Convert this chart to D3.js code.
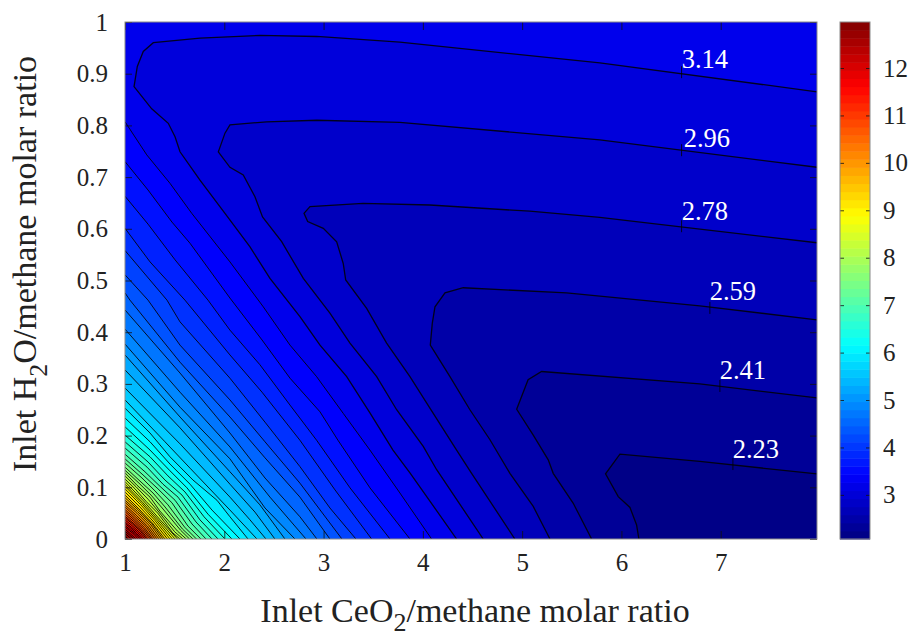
<!DOCTYPE html>
<html>
<head>
<meta charset="utf-8">
<script src="https://cdn.jsdelivr.net/npm/d3@7"></script>
<style>
  body { margin: 0; background: #fff; }
  text { font-family: "Liberation Serif", serif; fill: #222; }
</style>
</head>
<body>
<svg id="chart" width="914" height="637"></svg>
<script>
const xDomain = [1, 7.97];
const yDomain = [0, 1];
const zDomain = [2.07, 12.97];

const xTicks = [1, 2, 3, 4, 5, 6, 7];
const yTicks = [0, 0.1, 0.2, 0.3, 0.4, 0.5, 0.6, 0.7, 0.8, 0.9, 1];
const zTicks = [3, 4, 5, 6, 7, 8, 9, 10, 11, 12];

const contourLevels = [2.23, 2.41, 2.59, 2.78, 2.96, 3.14, 3.32, 3.50, 3.69, 3.87, 4.05, 4.23, 4.41, 4.60, 4.78, 4.96, 5.14, 5.32, 5.51, 5.69,
  5.87, 6.05, 6.23, 6.42, 6.60, 6.78, 6.96, 7.14, 7.33, 7.51, 7.69, 7.87, 8.05, 8.24, 8.42, 8.60, 8.78, 8.96, 9.15, 9.33,
  9.51, 9.69, 9.87, 10.06, 10.24, 10.42, 10.60, 10.78, 10.97, 11.15, 11.33, 11.51, 11.69, 11.88, 12.06, 12.24, 12.42, 12.60, 12.79];

// isolines as [x, y], one row per level above
const contourPoints = [
  [[7.97,.126],[6.79,.150],[5.985,.164],[5.84,.126],[5.968,.082],[6.086,.061],[6.153,.027],[6.176,0]],
  [[7.97,.273],[6.79,.300],[5.196,.324],[5.06,.308],[4.945,.251],[5.112,.201],[5.263,.153],[5.313,.127],[5.515,.069],[5.70,0]],
  [[7.97,.424],[6.79,.451],[5.448,.476],[4.407,.486],[4.223,.476],[4.122,.449],[4.095,.417],[4.075,.375],[4.273,.314],[4.474,.250],[4.676,.192],[4.877,.127],[5.112,.063],[5.28,0]],
  [[7.97,.573],[5.783,.622],[5.078,.634],[4.071,.646],[3.397,.649],[2.863,.643],[2.803,.630],[2.84,.614],[2.997,.601],[3.132,.575],[3.198,.533],[3.223,.501],[3.434,.446],[3.635,.379],[3.87,.314],[4.071,.253],[4.34,.172],[4.491,.127],[4.927,0]],
  [[7.97,.719],[5.783,.772],[3.769,.806],[2.931,.810],[2.427,.807],[2.057,.801],[2.007,.785],[1.94,.749],[2.057,.719],[2.191,.704],[2.309,.662],[2.385,.623],[2.578,.575],[2.796,.504],[3.064,.437],[3.266,.379],[3.535,.314],[3.736,.250],[4.004,.179],[4.139,.134],[4.608,0]],
  [[7.97,.865],[5.783,.921],[3.769,.961],[2.931,.972],[2.359,.974],[1.755,.969],[1.285,.96],[1.184,.943],[1.124,.914],[1.091,.875],[1.269,.832],[1.436,.804],[1.504,.778],[1.554,.749],[1.755,.694],[2.007,.63],[2.259,.565],[2.46,.504],[2.762,.43],[2.964,.375],[3.233,.314],[3.467,.244],[3.699,.172],[3.87,.128],[4.34,0]],
  [[1,.807],[1.219,.743],[1.453,.688],[1.672,.630],[2.057,.536],[2.393,.449],[2.662,.375],[2.93,.314],[3.198,.243],[3.467,.172],[3.769,.089],[4.088,0]],
  [[1,.730],[1.232,.675],[1.473,.613],[1.655,.572],[2.057,.466],[2.38,.385],[2.662,.311],[2.964,.246],[3.145,.191],[3.467,.099],[3.87,0]],
  [[1,.663],[1.232,.609],[1.504,.540],[1.836,.462],[2.057,.404],[2.359,.337],[2.662,.259],[2.93,.191],[3.266,.099],[3.669,0]],
  [[1,.601],[1.252,.536],[1.604,.462],[2.057,.356],[2.38,.284],[2.762,.191],[3.115,.095],[3.484,0]],
  [[1,.558],[1.423,.462],[1.554,.420],[2.057,.311],[2.41,.226],[2.762,.140],[3.064,.060],[3.326,0]],
  [[1,.511],[1.232,.462],[1.554,.375],[2.057,.269],[2.41,.188],[2.762,.108],[3.185,0]],
  [[1,.476],[1.05,.462],[1.554,.342],[2.057,.236],[2.41,.157],[2.762,.081],[3.064,0]],
  [[1,.443],[1.554,.321],[2.057,.205],[2.41,.118],[2.762,.043],[2.933,0]],
  [[1,.406],[1.554,.284],[2.057,.178],[2.46,.081],[2.823,0]],
  [[1,.377],[1.554,.255],[2.057,.155],[2.41,.060],[2.712,0]],
  [[1,.356],[1.554,.236],[2.057,.130],[2.359,.066],[2.611,0]],
  [[1,.327],[1.554,.215],[2.057,.106],[2.309,.052],[2.51,0]],
  [[1,.292],[1.554,.184],[2.057,.081],[2.259,.037],[2.42,0]],
  [[1,.269],[1.403,.188],[1.655,.137],[2.057,.056],[2.329,0]],
  [[1,.253],[1.252,.205],[1.453,.159],[1.685,.114],[1.926,.075],[2.057,.043],[2.239,0]],
  [[1,.234],[1.252,.188],[1.453,.145],[1.655,.106],[1.876,.056],[2.158,0]],
  [[1,.217],[1.252,.172],[1.453,.132],[1.624,.099],[1.836,.048],[2.077,0]],
  [[1,.201],[1.252,.159],[1.433,.122],[1.604,.091],[1.796,.043],[2.007,0]],
  [[1,.188],[1.232,.149],[1.403,.114],[1.574,.085],[1.755,.037],[1.937,0]],
  [[1,.176],[1.222,.139],[1.383,.106],[1.534,.081],[1.715,.033],[1.876,0]],
  [[1,.164],[1.201,.130],[1.352,.102],[1.504,.075],[1.675,.029],[1.816,0]],
  [[1,.155],[1.181,.124],[1.332,.097],[1.473,.070],[1.634,.025],[1.765,0]],
  [[1,.147],[1.171,.118],[1.302,.093],[1.433,.066],[1.60,.023],[1.72,0]],
  [[1,.139],[1.151,.112],[1.282,.089],[1.403,.062],[1.58,.019],[1.685,0]],
  [[1,.133],[1.141,.108],[1.262,.085],[1.383,.058],[1.56,.017],[1.65,0]],
  [[1,.128],[1.121,.104],[1.252,.081],[1.352,.054],[1.53,.015],[1.617,0]],
  [[1,.122],[1.111,.101],[1.232,.077],[1.342,.052],[1.50,.014],[1.584,0]],
  [[1,.116],[1.101,.097],[1.211,.073],[1.33,.05],[1.48,.012],[1.554,0]],
  [[1,.111],[1.185,.074],[1.35,.038],[1.529,0]],
  [[1,.106],[1.176,.071],[1.335,.037],[1.504,0]],
  [[1,.102],[1.167,.069],[1.32,.036],[1.478,0]],
  [[1,.097],[1.159,.066],[1.305,.035],[1.453,0]],
  [[1,.091],[1.15,.062],[1.29,.033],[1.428,0]],
  [[1,.085],[1.141,.058],[1.275,.031],[1.403,0]],
  [[1,.080],[1.134,.056],[1.268,.030],[1.383,0]],
  [[1,.075],[1.127,.053],[1.254,.029],[1.363,0]],
  [[1,.071],[1.12,.050],[1.239,.027],[1.342,0]],
  [[1,.066],[1.113,.046],[1.225,.025],[1.322,0]],
  [[1,.062],[1.106,.043],[1.211,.024],[1.302,0]],
  [[1,.057],[1.099,.040],[1.197,.022],[1.282,0]],
  [[1,.053],[1.093,.037],[1.187,.020],[1.267,0]],
  [[1,.048],[1.088,.034],[1.176,.018],[1.252,0]],
  [[1,.044],[1.081,.031],[1.162,.017],[1.232,0]],
  [[1,.041],[1.076,.029],[1.152,.016],[1.217,0]],
  [[1,.037],[1.07,.026],[1.141,.014],[1.201,0]],
  [[1,.033],[1.063,.023],[1.127,.013],[1.181,0]],
  [[1,.030],[1.058,.021],[1.116,.011],[1.166,0]],
  [[1,.026],[1.053,.018],[1.106,.010],[1.151,0]],
  [[1,.023],[1.046,.016],[1.092,.009],[1.131,0]],
  [[1,.019],[1.055,.010],[1.111,0]],
  [[1,.015],[1.045,.008],[1.091,0]],
  [[1,.011],[1.065,0]],
  [[1,.006],[1.03,0]]
];

const labelTexts = ["3.14", "2.96", "2.78", "2.59", "2.41", "2.23"];
const labelX = [6.841, 6.861, 6.841, 7.123, 7.223, 7.354];
const labelY = [0.928, 0.776, 0.634, 0.480, 0.327, 0.174];
const labelMarkX = [6.606, 6.606, 6.606, 6.891, 6.992, 7.123];
const labelMarkY = [0.903, 0.752, 0.605, 0.447, 0.296, 0.145];

const jetStops = [0, 1 / 8, 3 / 8, 5 / 8, 7 / 8, 1];
const jetColours = ["#000080", "#0000ff", "#00ffff", "#ffff00", "#ff0000", "#800000"];
const colourSteps = 64;

const plot = { left: 125, right: 817, top: 22, bottom: 539 };
const bar = { left: 840, right: 870 };

const svg = d3.select("#chart");

const xScale = d3.scaleLinear().domain(xDomain).range([plot.left, plot.right]);
const yScale = d3.scaleLinear().domain(yDomain).range([plot.bottom, plot.top]);
const zScale = d3.scaleLinear().domain(zDomain).range([plot.bottom, plot.top]);
const jet = d3.scaleLinear().domain(jetStops).range(jetColours);
const colourOf = z => jet((z - zDomain[0]) / (zDomain[1] - zDomain[0]));

const line = d3.line().x(d => xScale(d[0])).y(d => yScale(d[1]));

svg.append("defs").append("clipPath").attr("id", "plot-clip")
  .append("rect")
  .attr("x", plot.left).attr("y", plot.top)
  .attr("width", plot.right - plot.left).attr("height", plot.bottom - plot.top);

const field = svg.append("g").attr("clip-path", "url(#plot-clip)");

// hottest colour underneath, then each lower band painted over it
field.append("rect")
  .attr("x", plot.left).attr("y", plot.top)
  .attr("width", plot.right - plot.left).attr("height", plot.bottom - plot.top)
  .attr("fill", colourOf(12.9));

// close each isoline round the low side of the field
function lowSide(points) {
  const tail = [[xDomain[1], yDomain[0]]];
  if (points[0][0] === xDomain[0]) tail.push([xDomain[1], yDomain[1]], [xDomain[0], yDomain[1]]);
  return points.concat(tail);
}

const bands = contourPoints.map((points, i) => ({ level: contourLevels[i], points }));

field.selectAll("path.band")
  .data(bands.slice().reverse())
  .join("path")
  .attr("class", "band")
  .attr("d", d => line(lowSide(d.points)) + "Z")
  .attr("fill", d => colourOf(d.level - 0.09));

field.selectAll("path.isoline")
  .data(bands)
  .join("path")
  .attr("class", "isoline")
  .attr("d", d => line(d.points))
  .attr("fill", "none")
  .attr("stroke", "#000")
  .attr("stroke-opacity", 0.85)
  .attr("stroke-width", (d, i) => i < 6 ? 1.3 : 1);

// axes: ticks point inward on all four sides
function styleAxis(g) {
  g.select(".domain").remove();
  g.selectAll(".tick line").attr("stroke", "#111").attr("stroke-width", 0.8);
  g.selectAll(".tick text").attr("font-size", 25).attr("font-family", "Liberation Serif").attr("fill", "#222");
}

svg.append("g")
  .attr("transform", `translate(0,${plot.bottom})`)
  .call(d3.axisBottom(xScale).tickValues(xTicks).tickFormat(d => d).tickSize(-8).tickPadding(14))
  .call(styleAxis);

svg.append("g")
  .attr("transform", `translate(0,${plot.top})`)
  .call(d3.axisTop(xScale).tickValues(xTicks).tickFormat("").tickSize(-8))
  .call(styleAxis);

svg.append("g")
  .attr("transform", `translate(${plot.left},0)`)
  .call(d3.axisLeft(yScale).tickValues(yTicks).tickFormat(d => d).tickSize(-7).tickPadding(17))
  .call(styleAxis);

svg.append("g")
  .attr("transform", `translate(${plot.right},0)`)
  .call(d3.axisRight(yScale).tickValues(yTicks).tickFormat("").tickSize(-7))
  .call(styleAxis);

svg.append("rect")
  .attr("x", plot.left).attr("y", plot.top)
  .attr("width", plot.right - plot.left).attr("height", plot.bottom - plot.top)
  .attr("fill", "none").attr("stroke", "#8a8a8a").attr("stroke-width", 1);

// contour labels
svg.selectAll("line.label-mark")
  .data(labelMarkX)
  .join("line")
  .attr("class", "label-mark")
  .attr("x1", d => xScale(d)).attr("x2", d => xScale(d))
  .attr("y1", (d, i) => yScale(labelMarkY[i]) - 6)
  .attr("y2", (d, i) => yScale(labelMarkY[i]) + 6)
  .attr("stroke", "#000").attr("stroke-width", 0.8);

svg.selectAll("text.contour-label")
  .data(labelTexts)
  .join("text")
  .attr("class", "contour-label")
  .attr("x", (d, i) => xScale(labelX[i]))
  .attr("y", (d, i) => yScale(labelY[i]))
  .attr("dy", "0.33em")
  .attr("text-anchor", "middle")
  .attr("font-size", 26.5)
  .style("fill", "#fff")
  .text(d => d);

// colour bar
const barHeight = (plot.bottom - plot.top) / colourSteps;
svg.selectAll("rect.bar-step")
  .data(d3.range(colourSteps))
  .join("rect")
  .attr("class", "bar-step")
  .attr("x", bar.left)
  .attr("y", i => plot.bottom - (i + 1) * barHeight)
  .attr("width", bar.right - bar.left)
  .attr("height", barHeight + 0.5)
  .attr("fill", i => jet((i + 0.5) / colourSteps));

svg.append("g")
  .attr("transform", `translate(${bar.right},0)`)
  .call(d3.axisRight(zScale).tickValues(zTicks).tickFormat(d => d).tickSize(-4).tickPadding(13))
  .call(styleAxis)
  .selectAll(".tick text").attr("x", 13);

svg.append("g")
  .attr("transform", `translate(${bar.left},0)`)
  .call(d3.axisLeft(zScale).tickValues(zTicks).tickFormat("").tickSize(-4))
  .call(styleAxis);

svg.append("rect")
  .attr("x", bar.left).attr("y", plot.top)
  .attr("width", bar.right - bar.left).attr("height", plot.bottom - plot.top)
  .attr("fill", "none").attr("stroke", "#8a8a8a").attr("stroke-width", 1);

// axis titles, the 2 is a lowered tspan
const xTitle = svg.append("text")
  .attr("x", 475).attr("y", 622)
  .attr("text-anchor", "middle")
  .attr("font-size", 34);
xTitle.append("tspan").text("Inlet CeO");
xTitle.append("tspan").attr("dy", 9).attr("font-size", 26).text("2");
xTitle.append("tspan").attr("dy", -9).text("/methane molar ratio");

const yTitle = svg.append("text")
  .attr("transform", "translate(36,264) rotate(-90)")
  .attr("text-anchor", "middle")
  .attr("font-size", 34);
yTitle.append("tspan").text("Inlet H");
yTitle.append("tspan").attr("dy", 11).attr("font-size", 26).text("2");
yTitle.append("tspan").attr("dy", -11).text("O/methane molar ratio");
</script>
</body>
</html>
